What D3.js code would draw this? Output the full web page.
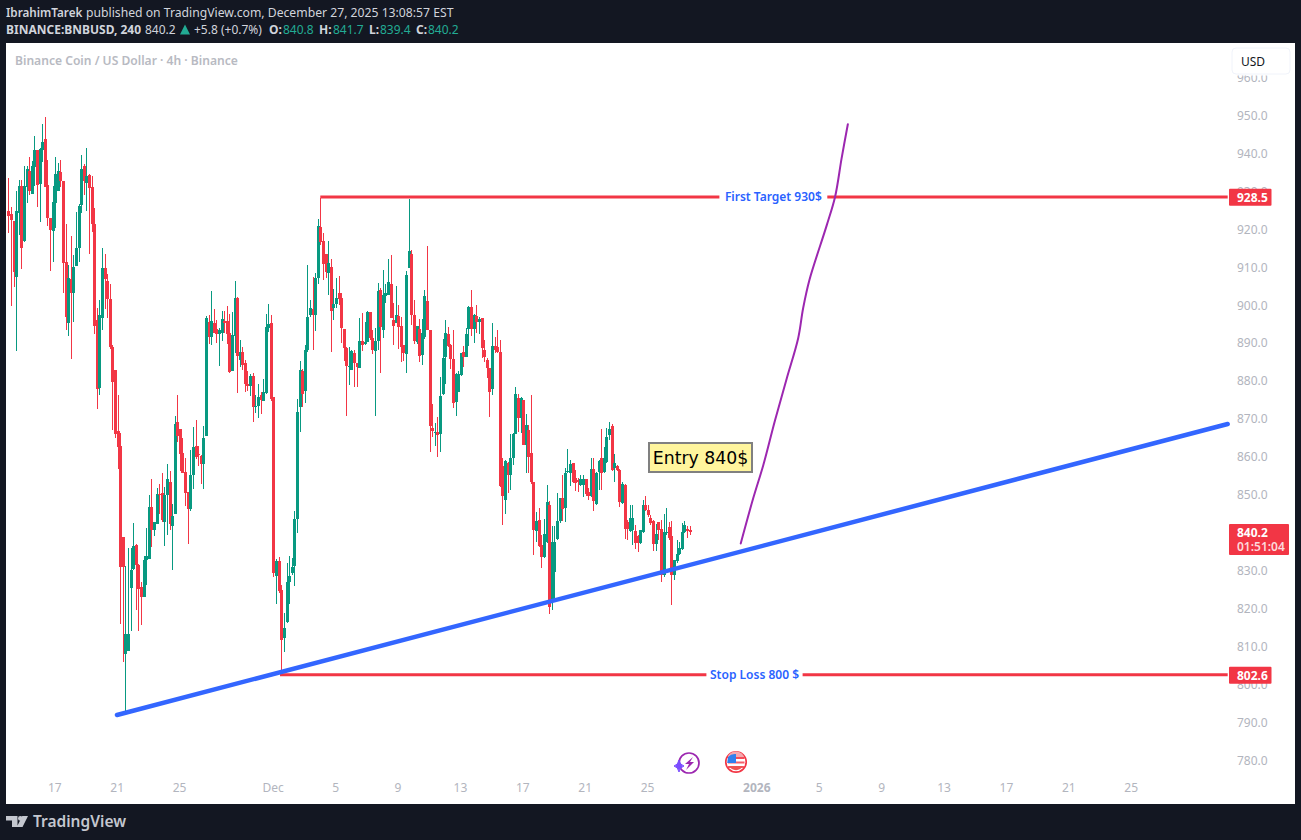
<!DOCTYPE html>
<html><head><meta charset="utf-8">
<script src="https://cdn.jsdelivr.net/npm/d3@7"></script>
<style>html,body{margin:0;padding:0;background:#131722;overflow:hidden}svg{display:block}</style>
</head><body><svg id="c" width="1301" height="840"></svg>
<script>
const opens=[924.8,924.0,922.2,907.5,924.2,931.4,916.9,931.2,935.4,929.3,
936.5,940.9,931.9,940.9,943.7,931.7,923.0,919.6,927.0,930.2,
935.1,932.7,911.3,895.4,906.9,903.3,910.3,915.1,926.4,936.7,
932.3,934.3,931.2,921.4,896.1,878.2,896.6,909.8,906.4,901.6,
889.0,882.9,866.9,862.9,838.9,808.0,808.9,825.5,830.4,836.8,
831.5,825.8,823.2,832.8,833.1,846.8,840.8,842.4,850.3,850.4,
842.9,850.0,853.4,841.8,845.0,869.2,867.4,861.1,856.0,850.8,
846.3,855.2,862.9,860.8,860.3,858.1,865.5,895.6,891.6,895.4,
893.7,892.4,892.8,895.8,895.8,892.7,882.7,891.9,901.9,885.6,
887.6,884.7,879.2,878.7,881.3,873.1,873.4,876.3,874.7,876.9,
894.0,895.3,875.8,828.6,832.6,824.9,812.3,816.5,827.0,829.3,
831.2,843.6,873.1,882.6,877.4,888.2,897.4,899.0,897.4,907.2,
920.6,916.9,913.5,908.5,910.1,899.2,900.3,903.2,901.9,893.7,
888.7,883.8,882.9,887.4,884.7,883.4,890.5,889.8,890.3,898.2,
891.3,887.9,890.5,904.0,893.4,902.4,902.7,905.6,896.1,895.3,
897.1,894.5,889.5,887.1,909.8,913.5,897.4,890.3,893.7,886.9,
891.5,901.1,893.4,867.6,866.5,866.5,866.0,876.6,886.3,892.4,
889.5,885.8,874.5,877.1,881.6,887.6,886.3,893.7,899.5,893.8,
897.2,895.6,896.7,888.2,885.6,883.5,877.9,889.3,889.0,887.7,
857.6,848.7,858.4,855.3,859.7,866.1,875.6,870.4,875.0,863.2,
867.1,861.0,853.4,840.5,843.4,836.8,833.6,837.6,847.3,822.3,
829.8,838.4,843.1,849.2,846.6,856.0,855.8,858.4,854.5,853.9,
852.6,852.6,854.2,850.8,849.7,856.8,847.6,856.0,859.7,856.0,
858.7,865.8,868.2,857.1,857.6,856.6,847.9,852.6,842.9,840.5,
840.7,840.5,839.2,837.3,840.2,847.3,846.0,843.9,843.1,837.1,
842.9,841.0,828.9,840.0,841.5,839.2,828.9,832.6,834.4,835.7,
840.2,841.0,840.8];
const highs=[933.4,925.8,922.3,930.1,933.0,933.0,936.7,936.7,939.1,938.0,
944.6,940.9,941.4,947.8,949.5,938.3,923.0,931.4,939.1,937.4,
938.3,932.7,921.4,910.6,918.2,913.2,924.6,926.7,939.6,937.2,
941.4,934.6,934.1,925.6,899.3,901.4,915.1,913.5,908.2,905.6,
889.5,882.9,876.3,866.4,838.9,831.3,836.0,836.0,842.5,837.0,
831.8,827.0,833.9,841.3,850.0,854.2,842.9,851.8,852.9,855.8,
852.1,858.2,856.3,847.6,870.8,876.3,867.4,865.0,859.7,850.8,
861.8,867.9,869.7,862.9,860.5,868.2,897.1,897.4,903.7,899.0,
896.1,894.0,898.5,898.5,899.8,897.8,898.2,906.4,902.1,890.8,
889.0,885.5,882.6,881.8,882.1,876.3,879.2,877.1,880.5,897.7,
900.3,897.4,875.8,833.1,833.6,826.2,818.8,832.0,833.9,833.3,
845.7,875.2,885.3,883.2,889.5,910.6,901.5,907.4,908.5,922.7,
928.2,918.9,913.5,916.9,912.3,904.3,907.2,907.7,903.2,893.7,
889.0,889.0,888.2,888.2,884.7,896.6,897.9,895.6,898.5,898.2,
893.4,894.0,905.8,904.5,909.3,905.6,912.2,913.2,900.6,905.0,
900.0,896.9,889.5,909.0,928.0,914.5,901.4,894.5,896.3,896.3,
904.0,915.6,893.4,873.9,868.9,870.5,881.1,891.1,896.1,894.2,
889.8,893.4,882.1,882.6,887.4,889.2,893.9,899.9,904.0,897.7,
900.1,896.9,896.7,890.9,886.1,883.5,895.3,891.6,893.5,890.7,
859.7,859.2,858.7,866.1,866.3,878.5,876.6,875.8,875.1,871.3,
868.4,876.3,853.4,845.5,846.6,839.4,843.6,852.6,848.4,841.8,
841.8,850.5,849.2,855.3,857.1,862.1,859.2,858.4,856.6,854.5,
855.3,855.3,854.2,851.8,859.7,859.7,856.0,859.2,867.4,862.7,
867.6,869.2,868.7,860.8,857.9,856.8,853.4,852.9,843.4,847.3,
847.3,842.1,839.4,840.7,848.7,849.7,847.3,844.7,843.4,842.3,
842.9,843.4,845.0,846.5,842.9,843.1,832.8,838.1,837.7,842.5,
843.1,841.8,841.7];
const lows=[919.1,899.9,904.9,888.0,918.5,909.6,916.7,927.0,929.1,929.3,
931.4,926.0,922.0,937.8,931.2,920.9,909.1,911.5,920.4,930.2,
931.2,903.3,893.4,891.9,885.9,895.6,910.3,911.4,924.4,929.1,
924.7,913.6,919.3,892.4,872.7,876.3,893.4,899.0,896.6,888.4,
867.1,865.1,856.9,816.0,806.0,792.0,808.9,814.2,830.2,819.7,
814.2,815.7,823.2,826.3,833.1,836.3,839.2,842.4,845.1,842.9,
836.6,839.4,840.8,830.2,845.0,864.0,856.3,855.8,847.1,837.0,
845.8,851.6,859.5,857.6,852.9,851.6,865.5,889.8,889.5,892.6,
890.1,884.0,890.6,892.6,889.8,882.2,882.7,887.3,876.9,883.8,
882.9,877.1,877.4,876.0,869.2,871.6,870.2,871.3,874.7,876.7,
892.9,874.7,828.3,821.2,824.1,802.5,808.6,816.2,821.2,828.9,
826.0,840.0,866.5,873.1,874.2,887.7,897.0,888.2,893.2,905.6,
915.9,906.6,907.2,902.7,887.6,896.1,899.2,900.0,890.0,885.3,
870.8,878.9,882.9,878.4,878.4,883.4,887.9,889.5,890.3,890.8,
887.1,870.8,888.2,882.1,891.3,900.6,902.7,896.6,889.5,895.2,
888.4,885.0,885.3,882.1,909.7,894.8,889.9,889.9,885.0,884.2,
891.2,893.4,861.3,865.3,862.9,859.9,861.3,876.3,879.2,889.0,
883.2,872.9,870.8,877.1,881.3,883.7,886.3,889.2,891.9,890.1,
892.6,892.4,886.1,884.9,880.8,870.5,876.3,887.3,887.3,852.2,
842.1,845.0,850.4,851.3,857.9,866.0,866.6,866.2,863.1,855.8,
855.7,853.0,834.2,837.6,836.4,830.7,833.5,837.2,818.6,819.6,
822.6,838.1,842.5,843.1,842.9,855.7,852.4,853.1,851.0,850.8,
852.4,849.5,849.7,848.7,849.5,845.8,847.3,851.3,851.3,855.7,
858.3,864.5,856.4,853.4,856.4,846.9,847.6,838.4,838.1,840.3,
836.8,835.7,834.9,837.1,840.0,845.8,844.3,842.1,835.2,835.2,
838.1,827.0,828.4,839.4,838.1,821.0,827.6,832.0,834.2,835.5,
839.9,838.6,839.4];
const closes=[923.6,922.5,908.8,924.8,931.4,915.2,931.4,935.9,930.1,936.7,
940.9,931.8,941.1,943.0,931.2,923.0,919.8,927.2,934.6,935.4,
932.7,911.2,897.0,907.2,903.3,910.1,915.1,926.1,935.9,932.7,
934.1,931.0,921.4,894.5,878.0,897.4,909.8,906.9,901.6,889.0,
879.7,866.0,862.7,831.1,831.1,813.3,813.3,830.2,836.5,831.5,
825.2,823.2,832.8,833.9,846.8,840.8,842.8,850.2,850.1,843.4,
850.0,854.2,842.3,844.4,868.7,865.4,860.8,855.9,850.6,846.2,
855.2,862.6,859.9,860.5,858.1,865.0,896.6,891.6,895.8,892.6,
892.4,893.4,896.4,895.4,892.4,882.5,892.1,901.9,886.7,887.7,
884.2,879.2,878.7,881.3,873.1,873.4,875.8,875.0,877.1,894.2,
895.0,875.2,829.3,832.6,824.6,811.7,814.9,827.0,828.6,831.1,
843.6,871.8,882.9,876.6,888.2,896.9,899.2,897.4,907.2,920.9,
916.7,910.8,908.7,911.1,898.5,900.3,901.9,901.6,894.0,888.7,
884.0,884.0,887.9,884.7,883.7,890.5,889.5,890.3,898.2,891.3,
888.2,890.5,903.7,894.2,902.7,903.2,906.1,896.6,894.5,897.4,
894.2,889.0,887.4,908.0,914.3,897.4,890.5,894.5,886.6,892.7,
902.4,893.4,868.1,866.8,866.5,865.8,876.0,886.1,892.7,889.2,
885.8,874.2,881.8,881.8,887.4,886.3,892.4,899.5,893.7,897.4,
895.6,896.4,888.7,886.4,883.5,877.1,889.3,888.2,887.7,852.4,
849.7,858.9,855.3,859.7,866.1,876.6,870.3,875.6,863.2,868.4,
860.0,853.4,840.7,843.1,836.5,833.6,839.7,848.1,820.4,837.6,
837.6,843.1,849.2,846.3,855.8,856.3,858.2,853.4,853.1,853.5,
854.2,854.2,850.2,849.7,856.8,848.4,855.8,858.9,855.8,859.7,
865.3,867.4,856.6,858.4,856.6,848.1,852.8,841.0,841.0,843.9,
843.9,837.3,837.3,840.7,847.3,846.0,844.7,842.6,837.1,839.7,
840.7,828.9,840.2,840.2,838.6,828.9,832.8,834.4,836.0,840.2,
842.1,840.5,840.2];

const priceTicks=[780,790,800,810,820,830,850,860,870,880,890,900,910,920,930,940,950,960];
const dateTickBars=[18,42,66,102,126,150,174,198,222,246,288,312,336,360,384,408,432];
const dateTickLabels=["17","21","25","Dec","5","9","13","17","21","25","2026","5","9","13","17","21","25"];

const trendBars=[41.8,469];
const trendPrices=[792.0,868.7];
const curveBars=[281.7,286.5,290.4,294.9,299.4,303.8,305.7,308.1,314.8,318,320.5,322.9];
const curvePrices=[837.2,849.1,857.9,869.7,880.7,891.3,899.2,906.6,921.1,928.6,938.7,947.7];
const targetPrice=928.5, targetStartBar=120, targetEndBar=469, targetGap=[273.5,315];
const stopPrice=802.6, stopStartBar=104.5, stopEndBar=469, stopGap=[268.5,305.5];
const lastPrice=840.2;

const RED="#f23645",GREEN="#089981",BLUE="#3366ff",PURPLE="#9c27b0";
const FONT="'Noto Sans',sans-serif";
const svg=d3.select("#c").style("font-family",FONT);
svg.append("rect").attr("width",1301).attr("height",840).attr("fill","#131722");
svg.append("rect").attr("x",6).attr("y",43).attr("width",1289).attr("height",761).attr("fill","#fff");

const x=d3.scaleLinear().domain([0,262]).range([8.3,689.5]);
const y=d3.scaleLinear().domain([780,950]).range([760.5,115.5]);

const defs=svg.append("defs");
defs.append("clipPath").attr("id","plot").append("rect").attr("x",6).attr("y",43).attr("width",1289).attr("height",761);

// axes
const yAxis=d3.axisRight(y).tickValues(priceTicks).tickSize(0).tickPadding(0).tickFormat(d3.format(".1f"));
const gy=svg.append("g").attr("transform","translate(1237,0)").call(yAxis);
gy.select(".domain").remove();
gy.selectAll("text").attr("fill","#b2b5be").style("font-size","12px").style("font-family",FONT);

const xAxis=d3.axisBottom(x).tickValues(dateTickBars).tickSize(0).tickPadding(0).tickFormat((d,i)=>dateTickLabels[i]);
const gx=svg.append("g").attr("transform","translate(-0.8,783)").call(xAxis);
gx.select(".domain").remove();
gx.selectAll("text").attr("fill","#b2b5be").style("font-size","12px").style("font-family",FONT)
  .style("font-weight",(d,i)=>dateTickLabels[i]==="2026"?"700":"400");

// candles
const bars=d3.range(opens.length).map(i=>({i,o:opens[i],h:highs[i],l:lows[i],c:closes[i]}));
const plot=svg.append("g").attr("clip-path","url(#plot)");
const cg=plot.append("g").attr("shape-rendering","crispEdges");
bars.forEach(b=>{
  const col=b.c>=b.o?GREEN:RED, cx=Math.round(x(b.i));
  cg.append("rect").attr("x",cx).attr("width",1).attr("y",y(b.h)).attr("height",Math.max(1,y(b.l)-y(b.h))).attr("fill",col);
  const t=y(Math.max(b.o,b.c)),bb=y(Math.min(b.o,b.c));
  cg.append("rect").attr("x",cx-1).attr("width",3).attr("y",t).attr("height",Math.max(1,bb-t)).attr("fill",col);
});

// horizontal levels with gaps for their labels
function level(p,a,b,gap,label){
  const seg=(s,e)=>plot.append("line").attr("x1",x(s)).attr("x2",x(e)).attr("y1",y(p)).attr("y2",y(p))
    .attr("stroke",RED).attr("stroke-width",3);
  seg(a,gap[0]);seg(gap[1],b);
  plot.append("text").attr("x",x((gap[0]+gap[1])/2)).attr("y",y(p)).attr("dy","0.35em")
    .attr("text-anchor","middle").attr("fill","#2962ff").style("font-size","12px").style("font-weight","600").text(label);
}
level(targetPrice,targetStartBar,targetEndBar,targetGap,"First Target 930$");
level(stopPrice,stopStartBar,stopEndBar,stopGap,"Stop Loss 800 $");

// trend line
plot.append("line").attr("x1",x(trendBars[0])).attr("y1",y(trendPrices[0])).attr("x2",x(trendBars[1])).attr("y2",y(trendPrices[1]))
  .attr("stroke",BLUE).attr("stroke-width",4.5).attr("stroke-linecap","round");

// projected path
plot.append("path").attr("fill","none").attr("stroke",PURPLE).attr("stroke-width",2).attr("stroke-linecap","round")
  .attr("d",d3.line().x(d=>x(d[0])).y(d=>y(d[1])).curve(d3.curveCatmullRom)(curveBars.map((b,i)=>[b,curvePrices[i]])));

// entry note
const note=svg.append("g");
note.append("rect").attr("x",649).attr("y",443).attr("width",103).attr("height",29).attr("fill","#fff59d").attr("stroke","#808080").attr("stroke-width",2);
note.append("text").attr("x",700.5).attr("y",457.5).attr("dy","0.36em").attr("text-anchor","middle")
  .attr("fill","#000").style("font-family","'DejaVu Sans',sans-serif").style("font-size","17.3px").text("Entry 840$");

// price tags
function tag(p,w,top,h,label,sub){
  svg.append("rect").attr("x",1229).attr("y",top).attr("width",w).attr("height",h).attr("rx",1).attr("fill",RED);
  svg.append("text").attr("x",1237).attr("y",sub?top+8.5:top+h/2).attr("dy","0.36em").attr("fill","#fff").style("font-size","12px").style("font-weight","700").text(label);
  if(sub) svg.append("text").attr("x",1237).attr("y",top+23).attr("dy","0.36em").attr("fill","#fff").attr("fill-opacity",.82).style("font-size","12px").style("font-weight","600").text(sub);
}
tag(targetPrice,42.5,y(targetPrice)-8.3,17,"928.5");
tag(stopPrice,42.5,y(stopPrice)-8,17,"802.6");
tag(lastPrice,60,y(lastPrice)-8,31,"840.2","01:51:04");

// currency button
svg.append("rect").attr("x",1229).attr("y",46).attr("width",64).attr("height",29.5).attr("fill","#fff");
svg.append("rect").attr("x",1232).attr("y",48).attr("width",58).attr("height",26).attr("rx",4).attr("fill","#fff").attr("stroke","#f0f3fa");
svg.append("text").attr("x",1241).attr("y",61.5).attr("dy","0.36em").attr("fill","#131722").style("font-size","12px").text("USD");

// header
function txt(px,py,s,col,opt={}){
  return svg.append("text").attr("x",px).attr("y",py).attr("dy","0.36em").attr("fill",col)
    .style("font-size",(opt.size||12)+"px").style("font-weight",opt.w||400).text(s);
}
const H="#d1d4dc",TXTG="#22ab94";
txt(6,12.5,"IbrahimTarek",H,{w:600,size:11.7});
txt(86,12.5,"published on TradingView.com, December 27, 2025 13:08:57 EST",H,{size:12.2});
txt(6,29.5,"BINANCE:BNBUSD, 240",H,{w:700});
txt(145,29.5,"840.2",H);
svg.append("path").attr("d","M180 34.5L185 24.5L190 34.5Z").attr("fill",TXTG);
txt(194,29.5,"+5.8 (+0.7%)",H);
[["O:",269,"840.8",283],["H:",319,"841.7",333],["L:",369,"839.4",380],["C:",416,"840.2",428]].forEach(d=>{
  txt(d[1],29.5,d[0],H,{w:700}); txt(d[3],29.5,d[2],TXTG);
});
txt(15,60.5,"Binance Coin / US Dollar · 4h · Binance","#b8bac2",{size:12.1,w:600});

// event icons
const ic=svg.append("g");
ic.append("circle").attr("cx",689).attr("cy",763).attr("r",10).attr("fill","#fff").attr("stroke",PURPLE).attr("stroke-width",1.7);
ic.append("path").attr("d","M693 757L685 764H689L686 770L694 762H690Z").attr("fill",PURPLE);
ic.append("path").attr("d","M679 760Q680 765 684 766Q680 767 679 772Q678 767 674 766Q678 765 679 760Z").attr("fill","#7b4dff").attr("stroke","#7b4dff").attr("stroke-width",1);
ic.append("circle").attr("cx",736).attr("cy",762).attr("r",10.2).attr("fill","#fff").attr("stroke",RED).attr("stroke-width",1.7);
ic.append("path").attr("d","M728 756A9 9 0 0 1 744.5 758V759H728Z").attr("fill","#f4a8ae");
[757,761.5,766].forEach(v=>ic.append("rect").attr("x",728).attr("y",v).attr("width",16.5).attr("height",2).attr("fill",RED).attr("fill-opacity",.8));
ic.append("path").attr("d","M728 757A9 9 0 0 1 736 754V763H727.2Z").attr("fill","#2f80ed");
ic.append("path").attr("d","M729 766H743A8 8 0 0 1 729 766Z").attr("fill","#ef5350");

// footer brand
const lg="#c4c7cf";
svg.append("path").attr("d","M6 816H17.5V827H12V820.5H6ZM28 816L22.5 827H16.8L22.3 816Z").attr("fill",lg);
svg.append("circle").attr("cx",20.4).attr("cy",818.4).attr("r",2.4).attr("fill",lg);
svg.append("text").attr("x",33).attr("y",827).attr("fill",lg).style("font-size","15.5px").style("font-weight","600").text("TradingView");
</script></body></html>
